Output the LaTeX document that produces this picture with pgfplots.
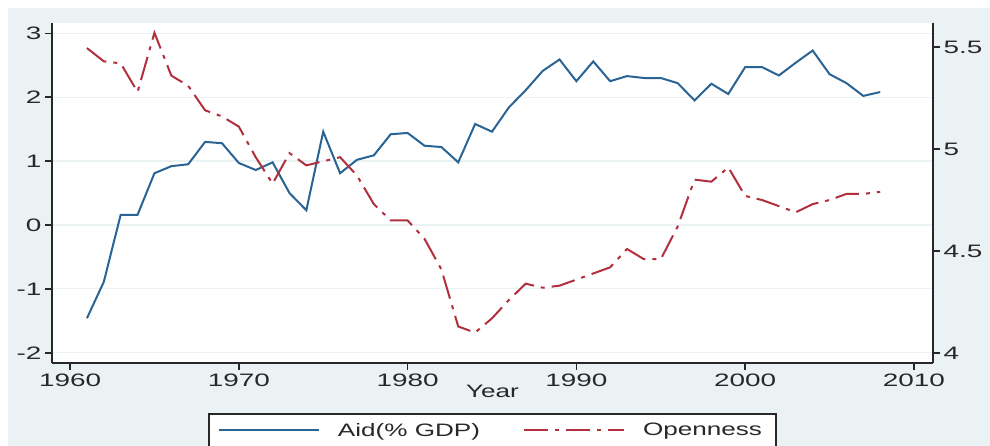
\documentclass[border=0pt]{standalone}
\usepackage{fontspec}
\setmainfont{Liberation Sans}[FakeStretch=1.45]
\newfontfamily\tickfont{Liberation Sans}[FakeStretch=1.55]
\usepackage{pgfplots}
\pgfplotsset{compat=1.18}
\definecolor{bgblue}{RGB}{234,242,243}
\definecolor{aidblue}{RGB}{42,100,148}
\definecolor{openred}{RGB}{178,48,62}
\definecolor{axgray}{RGB}{40,40,40}
\pgfplotstableread{
year aid
1961 -1.46
1962 -0.89
1963 0.16
1964 0.16
1965 0.81
1966 0.92
1967 0.95
1968 1.30
1969 1.28
1970 0.97
1971 0.86
1972 0.98
1973 0.50
1974 0.23
1975 1.46
1976 0.81
1977 1.02
1978 1.09
1979 1.42
1980 1.44
1981 1.24
1982 1.22
1983 0.98
1984 1.58
1985 1.46
1986 1.84
1987 2.11
1988 2.41
1989 2.59
1990 2.25
1991 2.56
1992 2.25
1993 2.33
1994 2.30
1995 2.30
1996 2.22
1997 1.95
1998 2.21
1999 2.05
2000 2.47
2001 2.47
2002 2.34
2003 2.54
2004 2.73
2005 2.36
2006 2.22
2007 2.02
2008 2.08
}\aidtable
\pgfplotstableread{
year open
1961 5.495
1962 5.43
1963 5.42
1964 5.28
1965 5.57
1966 5.36
1967 5.31
1968 5.19
1969 5.16
1970 5.11
1971 4.96
1972 4.83
1973 4.98
1974 4.92
1975 4.94
1976 4.96
1977 4.87
1978 4.73
1979 4.65
1980 4.65
1981 4.56
1982 4.41
1983 4.13
1984 4.10
1985 4.17
1986 4.26
1987 4.34
1988 4.32
1989 4.33
1990 4.36
1991 4.39
1992 4.42
1993 4.51
1994 4.46
1995 4.46
1996 4.62
1997 4.85
1998 4.84
1999 4.91
2000 4.77
2001 4.75
2002 4.72
2003 4.69
2004 4.73
2005 4.75
2006 4.78
2007 4.78
2008 4.79
}\opentable
\begin{document}
\begin{tikzpicture}[x=1pt,y=1pt]
\path[use as bounding box] (0,0) rectangle (990,446);
\fill[bgblue] (8,0) rectangle (990,438);
\pgfplotsset{
  common/.style={
    scale only axis, width=881pt, height=340pt,
    at={(52pt,83pt)}, anchor=south west,
    xmin=1958.93, xmax=2011.13,
    tick align=outside, major tick length=7pt,
    tick style={axgray, line width=1.5pt},
    axis line style={axgray, line width=2pt},
    ticklabel style={font=\tickfont\fontsize{18}{18}\selectfont, text=axgray},
    /pgf/number format/assume math mode=true,
    /pgf/number format/1000 sep={},
    minor tick num=0,
  }
}
\begin{axis}[common,
  axis x line*=bottom, axis y line*=left,
  ymin=-2.16, ymax=3.161, ytick={-2,-1,0,1,2,3},
  xtick={1960,1970,1980,1990,2000,2010},
  axis background/.style={fill=white},
  ymajorgrids, grid style={bgblue, line width=1.2pt},
  xlabel=Year,
  xlabel style={at={(axis description cs:0.5,0)}, anchor=north, yshift=-22pt, inner sep=0pt,
    font=\fontsize{18}{18}\selectfont, text=axgray},
]
\addplot[aidblue, line width=2pt] table[x=year, y=aid] {\aidtable};
\end{axis}
\begin{axis}[common,
  axis y line*=right, axis x line=none,
  ymin=3.951, ymax=5.618, ytick={4,4.5,5,5.5},
  legend columns=2,
  legend image code/.code={\draw[#1] (0pt,0pt) -- (100pt,0pt);},
  legend style={at={(axis description cs:0.5,0)}, anchor=north, yshift=-50pt,
    draw=axgray, line width=2pt, fill=white,
    font=\fontsize{18}{18}\selectfont, text=axgray,
    inner xsep=9pt, inner ysep=4pt,
    nodes={inner sep=5pt, anchor=west},
    /tikz/every odd column/.append style={column sep=13pt},
    /tikz/every even column/.append style={column sep=38pt}},
]
\addlegendimage{aidblue, line width=2pt}
\addlegendentry{Aid(\% GDP)}
\addplot[openred, line width=2pt, dash pattern=on 24pt off 7pt on 4pt off 7pt] table[x=year, y=open] {\opentable};
\addlegendentry{Openness}
\end{axis}
\end{tikzpicture}
\end{document}
